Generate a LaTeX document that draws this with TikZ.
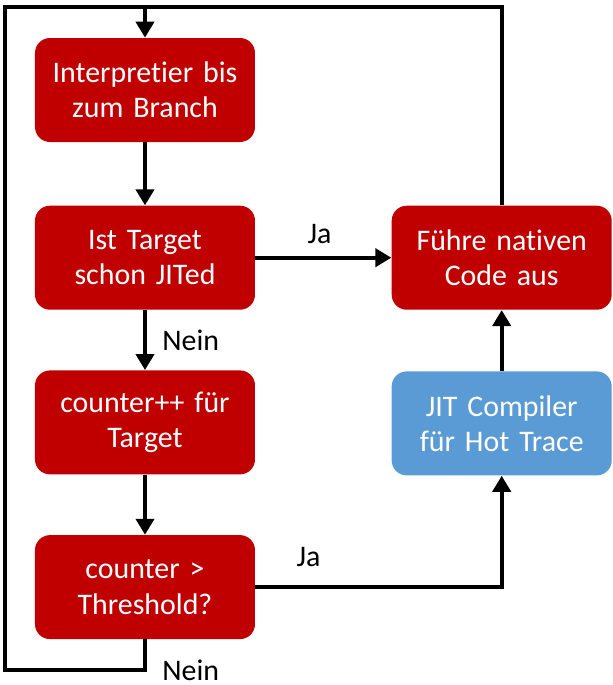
\documentclass[tikz,border=0pt]{standalone}
\usepackage{fontspec}
\setmainfont[Ligatures=NoCommon, WordSpace=0.8]{Carlito}
\usetikzlibrary{shapes,arrows.meta,positioning,calc}

\definecolor{boxred}{HTML}{C00000}
\definecolor{boxblue}{HTML}{5B9BD5}

\begin{document}
\begin{tikzpicture}
\tikzstyle{block} = [rectangle, rounded corners=0.3cm, fill=boxred, text=white,
    text width=4cm, align=center, minimum height=2.08cm, inner sep=0.2cm,
    font=\fontsize{17}{20}\selectfont, node distance=1.2cm]
\tikzstyle{jit} = [block, fill=boxblue]
\tikzstyle{line} = [draw, line width=0.08cm, -{Triangle[width=0.36cm,length=0.32cm]}]
\tikzstyle{plain} = [draw, line width=0.08cm]
\tikzstyle{tag} = [inner sep=0, anchor=base west, font=\fontsize{17}{20}\selectfont]

\useasboundingbox (-2.9,1.8) rectangle (9.36,-11.9);

\node [block] (interp) {Interpretier bis\\zum Branch};
\node [block, below=1.26cm of interp] (check) {Ist Target\\schon JITed};
\node [block, below=of check] (count) {counter++ für\\Target};
\node [block, below=of count] (thresh) {counter >\\Threshold?};
\node [block, right=2.72cm of check] (native) {Führe nativen\\Code aus};
\node [jit, below=1.22cm of native] (compile) {JIT Compiler\\für Hot Trace};

\coordinate (topleft) at ($(interp.north)+(-2.8,0.62)$);
\coordinate (topmid) at (interp.north |- topleft);
\coordinate (bottom) at ($(thresh.south)+(0,-0.62)$);

% main flow
\path [line] (interp) -- (check);
\path [line] (check) -- (count);
\path [line] (count) -- (thresh);
\path [line] (check) -- (native);
\path [line] (compile) -- (native);
\path [line] (thresh) -| (compile);

% back to the interpreter
\path [plain] (native) |- (topmid);
\path [line] (thresh) -- (bottom) -| (topleft) -| (interp);

\node [tag] (janative) at ($(check.east)+(1.04,0.28)$) {Ja};
\node [tag] (neincount) at ($(check.south)+(0.34,-0.8)$) {Nein};
\node [tag] (jajit) at ($(thresh.east)+(0.82,0.42)$) {Ja};
\node [tag] (neinloop) at ($(bottom)+(0.34,-0.2)$) {Nein};

\end{tikzpicture}
\end{document}
